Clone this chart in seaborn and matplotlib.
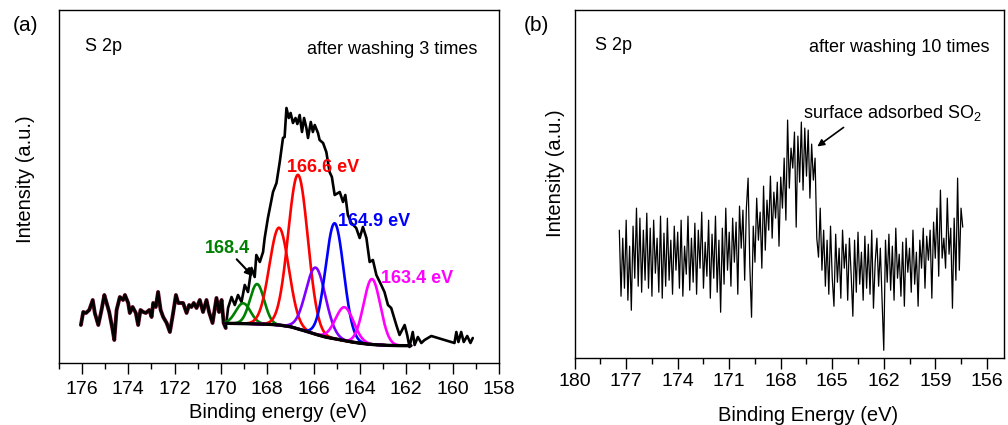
import numpy as np
import matplotlib
matplotlib.use("Agg")
import matplotlib.pyplot as plt
import seaborn as sns
from matplotlib.ticker import MultipleLocator

# ---------------- data: panel (a) raw S 2p spectrum (after washing 3 times) -------------
be_a = [176.04, 175.94, 175.82, 175.68, 175.53, 175.44, 175.29, 175.15, 175.03, 174.93,
        174.82, 174.67, 174.60, 174.50, 174.36, 174.22, 174.14, 174.00, 173.93, 173.81,
        173.67, 173.57, 173.47, 173.35, 173.24, 173.09, 172.99, 172.92, 172.81, 172.71,
        172.60, 172.49, 172.34, 172.20, 172.06, 171.94, 171.84, 171.70, 171.63, 171.48,
        171.37, 171.27, 171.17, 171.05, 170.91, 170.77, 170.62, 170.51, 170.36, 170.19,
        170.08, 169.97, 169.88, 169.79,
        169.69, 169.54, 169.40, 169.26, 169.11, 168.97, 168.83, 168.68, 168.54, 168.47,
        168.32, 168.18, 168.11, 167.97, 167.75, 167.60, 167.46, 167.32, 167.25, 167.17,
        167.07, 166.99, 166.89, 166.78, 166.70, 166.60, 166.50, 166.41, 166.31, 166.24,
        166.12, 166.03, 165.95, 165.81, 165.74, 165.59, 165.45, 165.31, 165.21, 165.09,
        164.87, 164.73, 164.63, 164.52, 164.37, 164.16, 164.01, 163.87, 163.72, 163.58,
        163.44, 163.29, 163.08, 162.94, 162.79, 162.65, 162.43, 162.29, 162.07, 161.96,
        161.86, 161.72, 161.64, 161.50, 161.35, 161.21, 160.92, 159.92, 159.84, 159.75,
        159.63, 159.52, 159.37, 159.23, 159.13]
int_a = [38, 51, 50, 53, 63, 50, 38, 53, 68, 60,
         51, 33, 23, 53, 66, 63, 68, 60, 50, 56,
         50, 38, 53, 51, 50, 53, 46, 60, 56, 71,
         53, 46, 40, 31, 50, 68, 60, 60, 60, 50,
         58, 56, 60, 55, 63, 51, 63, 51, 40, 65,
         51, 63, 40, 35,
         55, 66, 58, 68, 61, 78, 71, 95, 86, 108,
         101, 111, 125, 145, 171, 180, 201, 225, 226, 255,
         245, 250, 240, 245, 239, 248, 231, 245, 235, 225,
         241, 231, 238, 230, 223, 220, 211, 191, 186, 168,
         171, 161, 168, 148, 140, 135, 125, 136, 125, 101,
         103, 88, 78, 71, 58, 55, 38, 28, 38, 28,
         16, 31, 18, 26, 20, 23, 27, 20, 31, 21,
         31, 21, 27, 20, 25]
noise_end_a = 54  # first points, plotted with the wine-coloured overlay

# Shirley-type background
bg_be = [169.8, 169.5, 169.0, 168.5, 168.0, 167.5, 167.0, 166.5, 166.0,
         165.5, 165.0, 164.5, 164.0, 163.5, 163.0, 162.5, 161.8]
bg_int = [39.7, 39.6, 39.4, 39.1, 38.8, 38.0, 36.3, 33.0, 29.3,
          26.0, 23.8, 21.5, 19.8, 18.5, 17.8, 17.4, 17.3]

# fitted components (centre eV, height above background, FWHM eV)
peak_centers = [169.04, 168.44, 167.49, 166.67, 165.91, 165.09, 164.66, 163.48]
peak_heights = [20.3, 39.9, 97.3, 154.0, 66.6, 115.5, 33.5, 65.5]
peak_fwhm = [0.75, 0.72, 0.98, 1.0, 1.0, 0.92, 0.92, 0.85]
peak_colors = ["#008000", "#008000", "#FF0000", "#FF0000", "#8000FF",
               "#0000FF", "#FF00FF", "#FF00FF"]

peak_labels = ["168.4", "166.6 eV", "164.9 eV", "163.4 eV"]
peak_label_colors = ["#008000", "#FF0000", "#0000FF", "#FF00FF"]

# ---------------- data: panel (b) raw spectrum (after washing 10 times) -----------------
be_b_start, be_b_step = 177.4, 0.1
int_b = [128, 62, 120, 70, 138,
         58, 112, 48, 132, 80, 150, 72, 140, 66, 128,
         78, 145, 70, 130, 62, 138, 85, 120, 66, 142,
         60, 125, 72, 140, 78, 118, 64, 132, 88, 126,
         70, 138, 62, 112, 84, 142, 68, 120, 76, 135,
         64, 128, 90, 146, 70, 116, 82, 138, 60, 124,
         80, 142, 66, 118, 46, 130, 74, 150, 88, 126,
         72, 140, 96, 136, 64, 152, 110, 148, 78, 150,
         180, 92, 41, 132, 96, 160, 118, 146, 90, 172,
         108, 158, 128, 182, 120, 166, 140, 176, 112, 181,
         150, 200, 138, 238, 170, 210, 190, 226, 131, 222,
         176, 236, 168, 230, 182, 228, 160, 214, 178, 200,
         120, 101, 150, 88, 128, 72, 118, 64, 132, 80,
         52, 124, 76, 110, 60, 128, 90, 114, 58, 120,
         84, 42, 118, 66, 126, 74, 106, 58, 122, 70,
         114, 64, 128, 50, 96, 120, 72, 110, 60, 8,
         118, 76, 124, 68, 112, 58, 130, 80, 104, 62,
         116, 52, 120, 86, 110, 66, 128, 74, 106, 52,
         118, 90, 130, 70, 122, 98, 128, 60, 136, 100,
         150, 82, 168, 100, 120, 90, 160, 104, 130, 50,
         140, 78, 180, 88, 150, 131]
be_b = np.round(be_b_start - be_b_step * np.arange(len(int_b)), 2)

# ---------------- style ----------------
sns.set_theme(style="ticks")
plt.rcParams["font.family"] = ["Liberation Sans", "DejaVu Sans"]
plt.rcParams["mathtext.fontset"] = "custom"
plt.rcParams["mathtext.rm"] = "Liberation Sans"
plt.rcParams["axes.edgecolor"] = "black"
plt.rcParams["axes.linewidth"] = 1.0
plt.rcParams["text.color"] = "black"
plt.rcParams["axes.labelcolor"] = "black"
plt.rcParams["xtick.color"] = "black"
plt.rcParams["ytick.color"] = "black"

fig = plt.figure(figsize=(10.08, 4.25), dpi=100)
axA = fig.add_axes([0.0582, 0.1459, 0.4368, 0.8306])
axB = fig.add_axes([0.5701, 0.157, 0.4259, 0.8195])

# ---------------- panel (a) ----------------
be_a_arr = np.array(be_a)
int_a_arr = np.array(int_a, dtype=float)
sns.lineplot(x=be_a_arr[:noise_end_a], y=int_a_arr[:noise_end_a], ax=axA,
             color="#6a0a28", lw=2.8, sort=False, estimator=None)
sns.lineplot(x=be_a_arr, y=int_a_arr, ax=axA, color="black", lw=1.9,
             sort=False, estimator=None)

grid = np.linspace(bg_be[0], bg_be[-1], 500)
bg_curve = np.interp(grid[::-1], bg_be[::-1], bg_int[::-1])[::-1]
for c, h, w, col in zip(peak_centers, peak_heights, peak_fwhm, peak_colors):
    sig = w / 2.3548
    comp = bg_curve + h * np.exp(-0.5 * ((grid - c) / sig) ** 2)
    sns.lineplot(x=grid, y=comp, ax=axA, color=col, lw=1.9, sort=False, estimator=None)
sns.lineplot(x=grid, y=bg_curve, ax=axA, color="black", lw=2.4, sort=False, estimator=None)

axA.set_xlim(177, 158)
axA.set_ylim(0, 353)
axA.xaxis.set_major_locator(MultipleLocator(2))
axA.xaxis.set_minor_locator(MultipleLocator(1))
axA.set_yticks([])
axA.tick_params(axis="x", which="major", direction="out", length=8, width=1,
                labelsize=14, pad=5, color="black", labelcolor="black", bottom=True)
axA.tick_params(axis="x", which="minor", direction="out", length=4.3, width=1,
                color="black", bottom=True)
axA.set_xlabel("Binding energy (eV)", fontsize=14.5, color="black")
axA.set_ylabel("Intensity (a.u.)", fontsize=14.5, color="black")
axA.xaxis.set_label_coords(0.499, -0.113)
axA.yaxis.set_label_coords(-0.054, 0.52)

axA.text(0.0597, 0.885, "S 2p", transform=axA.transAxes, fontsize=13, va="baseline")
axA.text(0.950, 0.875, "after washing 3 times", transform=axA.transAxes,
         fontsize=13, va="baseline", ha="right")

label_pos = [(0.332, 0.311), (0.518, 0.540), (0.634, 0.389), (0.731, 0.2275)]
for txt, col, (xf, yf) in zip(peak_labels, peak_label_colors, label_pos):
    axA.text(xf, yf, txt, transform=axA.transAxes, fontsize=13, fontweight="bold",
             color=col, va="baseline")
axA.annotate("", xy=(168.54, 84.7), xytext=(169.40, 105.7),
             arrowprops=dict(arrowstyle="-|>", color="black", lw=1.5, mutation_scale=11))

# ---------------- panel (b) ----------------
sns.lineplot(x=be_b, y=int_b, ax=axB, color="black", lw=0.9, sort=False, estimator=None)
axB.set_xlim(180, 155)
axB.set_ylim(0, 348)
axB.xaxis.set_major_locator(MultipleLocator(3))
axB.xaxis.set_minor_locator(MultipleLocator(1.5))
axB.set_yticks([])
axB.tick_params(axis="x", which="major", direction="out", length=8, width=1,
                labelsize=14, pad=2.5, color="black", labelcolor="black", bottom=True)
axB.tick_params(axis="x", which="minor", direction="out", length=4.3, width=1,
                color="black", bottom=True)
axB.set_xlabel("Binding Energy (eV)", fontsize=14.5, color="black")
axB.set_ylabel("Intensity (a.u.)", fontsize=14.5, color="black")
axB.xaxis.set_label_coords(0.543, -0.136)
axB.yaxis.set_label_coords(-0.0225, 0.532)

axB.text(0.047, 0.885, "S 2p", transform=axB.transAxes, fontsize=13, va="baseline")
axB.text(0.967, 0.880, "after washing 10 times", transform=axB.transAxes,
         fontsize=13, va="baseline", ha="right")
axB.text(0.532, 0.689, r"surface adsorbed SO$_\mathrm{2}$", transform=axB.transAxes,
         fontsize=13, va="baseline")
axB.annotate("", xy=(166.0, 210), xytext=(164.21, 232.3),
             arrowprops=dict(arrowstyle="-|>", color="black", lw=1.2, mutation_scale=10))

for ax in (axA, axB):
    for s in ax.spines.values():
        s.set_visible(True)
        s.set_color("black")
        s.set_linewidth(1.0)

fig.text(0.0253, 0.941, "(a)", fontsize=15, ha="center", va="center", color="black")
fig.text(0.532, 0.941, "(b)", fontsize=15, ha="center", va="center", color="black")

fig.savefig("out.png", dpi=100)
